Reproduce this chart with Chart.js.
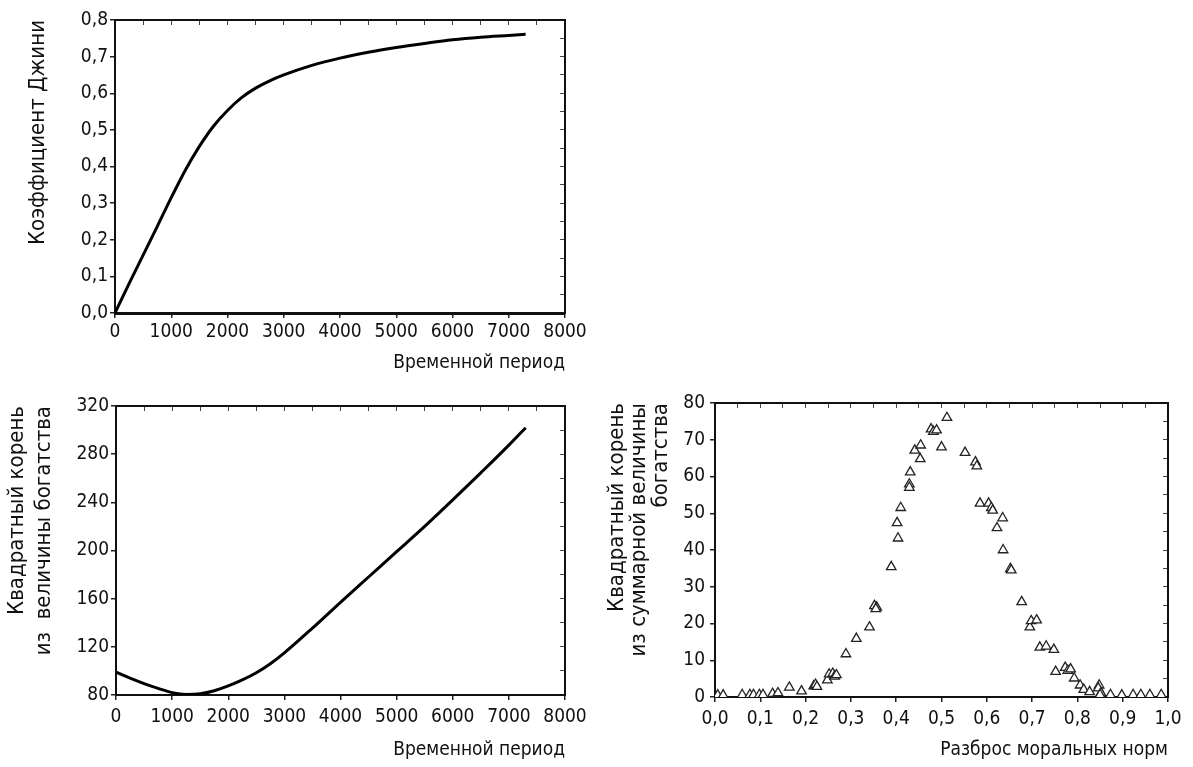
<!DOCTYPE html>
<html>
<head>
<meta charset="utf-8">
<script src="https://cdn.jsdelivr.net/npm/chart.js"></script>
<style>
    body { margin: 0; background: #fff; }
    .box { position: absolute; }
</style>
</head>
<body>
<div class="box" style="left:0px;top:0px"><canvas id="giniChart" width="600" height="380"></canvas></div>
<div class="box" style="left:0px;top:385px"><canvas id="wealthChart" width="600" height="382"></canvas></div>
<div class="box" style="left:600px;top:385px"><canvas id="moralChart" width="593" height="382"></canvas></div>
<script>
// коэффициент Джини во времени
var giniT = [0, 250, 500, 750, 1000, 1250, 1500, 1750, 2000, 2250, 2500, 2750, 3000, 3500, 4000, 4500, 5000, 5500, 6000, 6500, 7000, 7300];
var giniV = [0, 0.08, 0.158, 0.236, 0.315, 0.39, 0.455, 0.51, 0.553, 0.588, 0.614, 0.634, 0.65, 0.676, 0.696, 0.712, 0.725, 0.736, 0.746, 0.753, 0.758, 0.761];
var giniTicks = ['0,0', '0,1', '0,2', '0,3', '0,4', '0,5', '0,6', '0,7', '0,8'];

// квадратный корень из богатства во времени
var wealthT = [0, 250, 500, 750, 1000, 1250, 1500, 1750, 2000, 2250, 2500, 2750, 3000, 3500, 4000, 4500, 5000, 5500, 6000, 6500, 7000, 7300];
var wealthV = [99, 94, 89.5, 85.5, 82, 80.5, 81, 83.5, 87.5, 92.5, 98.5, 106, 115, 135.5, 157, 178, 199, 220, 242, 264.5, 287.5, 302];
var wealthTicks = ['80', '120', '160', '200', '240', '280', '320'];

var periodTicks = ['0', '1000', '2000', '3000', '4000', '5000', '6000', '7000', '8000'];

// разброс моральных норм
var spreadX = [0.006, 0.018, 0.06, 0.077, 0.085, 0.098, 0.106, 0.127, 0.139, 0.164, 0.191,
    0.218, 0.222, 0.225, 0.248, 0.252, 0.26, 0.264, 0.268, 0.289, 0.312, 0.341, 0.352, 0.357, 0.355,
    0.389, 0.404, 0.402, 0.41, 0.429, 0.431, 0.429, 0.441, 0.453, 0.454, 0.477, 0.482, 0.489, 0.5, 0.512,
    0.552, 0.575, 0.578, 0.585, 0.604, 0.61, 0.613, 0.635, 0.6225, 0.636, 0.652, 0.654, 0.677,
    0.695, 0.698, 0.71, 0.717, 0.731, 0.748, 0.752, 0.773, 0.779, 0.785, 0.793, 0.806, 0.814, 0.827,
    0.848, 0.846, 0.852, 0.85, 0.873, 0.898, 0.923, 0.94, 0.96, 0.985];
var spreadY = [0.5, 0.5, 0.6, 0.6, 0.6, 0.6, 0.6, 0.9, 1.1, 2.6, 1.6,
    3.0, 3.4, 2.8, 4.6, 6.2, 6.4, 5.6, 6.0, 11.7, 15.9, 19.0, 24.8, 24.4, 24.0,
    35.4, 43.2, 47.4, 51.5, 57.9, 61.2, 57.0, 67.1, 64.8, 68.5, 72.9, 72.2, 72.6, 68.0, 76.0,
    66.5, 63.9, 62.8, 52.7, 52.7, 51.5, 50.8, 48.7, 46.0, 40.0, 34.9, 34.5, 25.9,
    19.0, 20.7, 20.9, 13.5, 13.8, 12.9, 6.9, 8.0, 7.2, 7.6, 5.1, 3.2, 2.0, 1.4,
    3.2, 2.4, 1.1, 0.6, 0.6, 0.5, 0.6, 0.6, 0.6, 0.6];
var spreadTicks = ['0,0', '0,1', '0,2', '0,3', '0,4', '0,5', '0,6', '0,7', '0,8', '0,9', '1,0'];
var sumTicks = ['0', '10', '20', '30', '40', '50', '60', '70', '80'];

Chart.defaults.font.family = "'DejaVu Sans Condensed', 'Liberation Sans Narrow', sans-serif";
Chart.defaults.font.size = 19;
Chart.defaults.color = '#111';

function pairs(xs, ys) {
    return xs.map(function (x, i) { return { x: x, y: ys[i] }; });
}

function labelFrom(list, min, step) {
    return function (v) {
        var i = Math.round((v - min) / step);
        return list[i] !== undefined ? list[i] : '';
    };
}

function buildScales(c) {
    return {
        x: {
            type: 'linear', min: c.xMin, max: c.xMax,
            ticks: { stepSize: c.xStep, padding: c.xPad, maxRotation: 0, autoSkip: false,
                     callback: labelFrom(c.xLabels, c.xMin, c.xStep) },
            grid: { drawOnChartArea: false, tickLength: 5, color: '#222', lineWidth: 1.5 },
            border: { color: '#111', width: c.xBorder || 2 },
            title: { display: true, text: c.xTitle, align: 'end', padding: { top: 0, bottom: c.xTitlePad } },
            afterFit: function (s) { s.height = c.xH; }
        },
        y: {
            type: 'linear', min: c.yMin, max: c.yMax,
            ticks: { stepSize: c.yStep, padding: c.yPad, autoSkip: false,
                     callback: labelFrom(c.yLabels, c.yMin, c.yStep) },
            grid: { drawOnChartArea: false, tickLength: 5, color: '#222', lineWidth: 1.5 },
            border: { color: '#111', width: 2 },
            title: { display: true, text: c.yTitle, align: 'end',
                     font: { size: 22, lineHeight: c.yLine }, padding: { top: c.yTitlePad, bottom: 0 } },
            afterFit: function (s) { s.width = c.yW; }
        },
        x2: {
            type: 'linear', position: 'top', min: c.xMin, max: c.xMax,
            ticks: { display: false, stepSize: c.xStep / 2 },
            grid: { drawOnChartArea: false, tickLength: -5, color: '#444', lineWidth: 1 },
            border: { color: '#111', width: 2 },
            afterFit: function (s) { s.height = 0; }
        },
        y2: {
            type: 'linear', position: 'right', min: c.yMin, max: c.yMax,
            ticks: { display: false, stepSize: c.yStep / 2 },
            grid: { drawOnChartArea: false, tickLength: -5, color: '#444', lineWidth: 1 },
            border: { color: '#111', width: 2 },
            afterFit: function (s) { s.width = 0; }
        }
    };
}

var common = {
    responsive: false,
    animation: false,
    devicePixelRatio: 1,
    plugins: { legend: { display: false }, tooltip: { enabled: false } }
};

new Chart(document.getElementById('giniChart'), {
    type: 'line',
    data: {
        datasets: [{
            data: pairs(giniT, giniV),
            borderColor: '#000', borderWidth: 3, pointRadius: 0,
            cubicInterpolationMode: 'monotone'
        }]
    },
    options: Object.assign({}, common, {
        layout: { padding: { top: 20, right: 35, left: 0, bottom: 0 } },
        scales: buildScales({
            xMin: 0, xMax: 8000, xStep: 1000, xLabels: periodTicks, xPad: 3, xH: 67, xBorder: 3,
            xTitle: 'Временной период', xTitlePad: 6,
            yMin: 0, yMax: 0.8, yStep: 0.1, yLabels: giniTicks, yPad: 2, yW: 115,
            yTitle: 'Коэффициент Джини', yTitlePad: 25, yLine: 1.2
        })
    })
});

new Chart(document.getElementById('wealthChart'), {
    type: 'line',
    data: {
        datasets: [{
            data: pairs(wealthT, wealthV),
            borderColor: '#000', borderWidth: 3, pointRadius: 0,
            cubicInterpolationMode: 'monotone'
        }]
    },
    options: Object.assign({}, common, {
        layout: { padding: { top: 21, right: 35, left: 0, bottom: 0 } },
        scales: buildScales({
            xMin: 0, xMax: 8000, xStep: 1000, xLabels: periodTicks, xPad: 6, xH: 72,
            xTitle: 'Временной период', xTitlePad: 6,
            yMin: 80, yMax: 320, yStep: 40, yLabels: wealthTicks, yPad: 2, yW: 116,
            yTitle: ['Квадратный корень', 'из  величины богатства'], yTitlePad: 4, yLine: 1.23
        })
    })
});

new Chart(document.getElementById('moralChart'), {
    type: 'scatter',
    data: {
        datasets: [{
            data: pairs(spreadX, spreadY),
            pointStyle: 'triangle', pointRadius: 5.5,
            backgroundColor: '#fff', borderColor: '#222', borderWidth: 1.3
        }]
    },
    options: Object.assign({}, common, {
        layout: { padding: { top: 18, right: 25, left: 0, bottom: 0 } },
        scales: buildScales({
            xMin: 0, xMax: 1, xStep: 0.1, xLabels: spreadTicks, xPad: 6, xH: 70,
            xTitle: 'Разброс моральных норм', xTitlePad: 6,
            yMin: 0, yMax: 80, yStep: 10, yLabels: sumTicks, yPad: 5, yW: 115,
            yTitle: ['Квадратный корень', 'из суммарной величины', 'богатства'], yTitlePad: 6, yLine: 1.0
        })
    })
});
</script>
</body>
</html>
